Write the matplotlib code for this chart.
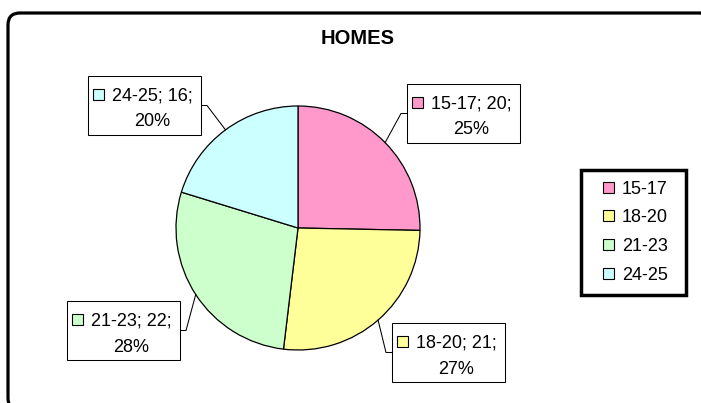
import numpy as np
import matplotlib as mpl
mpl.use('Agg')
from matplotlib import pyplot as plt
from matplotlib.patches import FancyBboxPatch, Rectangle
from matplotlib.lines import Line2D
from matplotlib.transforms import IdentityTransform

plt.rcParams['font.family'] = ['Liberation Sans', 'DejaVu Sans']

#------------------- Data ----------------------
title = 'HOMES'
categories = ['15-17', '18-20', '21-23', '24-25']
values = [20, 21, 22, 16]
colors = ['#FF99CC', '#FFFF99', '#CCFFCC', '#CCFFFF']

# label boxes, top-left corner in pixels (image origin top-left)
box_pos = [(407, 84), (392, 323), (67, 301), (88, 76)]

#------------------- Layout (pixels) -----------
W, H = 701, 403
cx, cy, r = 298, 228, 122
pix = IdentityTransform()

def py(y):
    return H - y

fig = plt.figure(figsize=(W / 100, H / 100), dpi=100)
renderer = fig.canvas.get_renderer()

# rounded outer frame, partly off canvas
frame = FancyBboxPatch((8, py(410)), 705, 397, boxstyle='round,pad=0,rounding_size=12',
                       transform=pix, fc='none', ec='black', lw=2.3, zorder=0)
fig.add_artist(frame)

fig.text(358, py(39), title, transform=pix, ha='center', va='center',
         fontsize=14.5, fontweight='bold')

#------------------- Pie -----------------------
ax = fig.add_axes([(cx - r) / W, (H - cy - r) / H, 2 * r / W, 2 * r / H])
wedges, _ = ax.pie(values, colors=colors, startangle=90, counterclock=False,
                   wedgeprops=dict(edgecolor='black', linewidth=0.9))
for w in wedges:
    w.set_clip_on(False)
ax.set_xlim(-1, 1)
ax.set_ylim(-1, 1)
ax.axis('off')
ax.apply_aspect()

total = float(sum(values))
bw, bh = 113, 59
for i, w in enumerate(wedges):
    bx, by = box_pos[i]
    t = np.deg2rad((w.theta1 + w.theta2) / 2)
    px_, py_ = ax.transData.transform((np.cos(t), np.sin(t)))
    # leader line: pie edge -> elbow -> box side
    ym = py(by + bh / 2)
    if px_ < bx:
        xs, xe = bx - 6, bx
    else:
        xs, xe = bx + bw + 6, bx + bw
    fig.add_artist(Line2D([px_, xs, xe], [py_, ym, ym], transform=pix,
                          color='black', lw=0.75, zorder=3))
    fig.add_artist(Rectangle((bx, py(by + bh)), bw, bh, transform=pix,
                             fc='white', ec='black', lw=0.75, zorder=4))
    fig.add_artist(Rectangle((bx + 5, py(by + 24)), 11, 11, transform=pix,
                             fc=colors[i], ec='black', lw=0.8, zorder=5))
    pct = int(round(values[i] / total * 100))
    t1 = fig.text(bx + 24, py(by + 24.5), '%s; %d;' % (categories[i], values[i]),
                  transform=pix, ha='left', va='baseline', fontsize=13, zorder=6)
    ext = t1.get_window_extent(renderer)
    fig.text((ext.x0 + ext.x1) / 2, py(by + 50.5), '%d%%' % pct,
             transform=pix, ha='center', va='baseline', fontsize=13, zorder=6)

#------------------- Legend --------------------
lx, ly, lw_, lh = 581, 170, 105, 125
fig.add_artist(Rectangle((lx, py(ly + lh)), lw_, lh, transform=pix,
                         fc='white', ec='black', lw=2.5, zorder=4))
for i, cat in enumerate(categories):
    yc = 187 + 28.7 * i
    fig.add_artist(Rectangle((603, py(yc + 5.5)), 11, 11, transform=pix,
                             fc=colors[i], ec='black', lw=0.8, zorder=5))
    fig.text(622, py(yc + 6.5), cat, transform=pix, ha='left', va='baseline',
             fontsize=13, zorder=6)

plt.savefig('out.png', dpi=100)
